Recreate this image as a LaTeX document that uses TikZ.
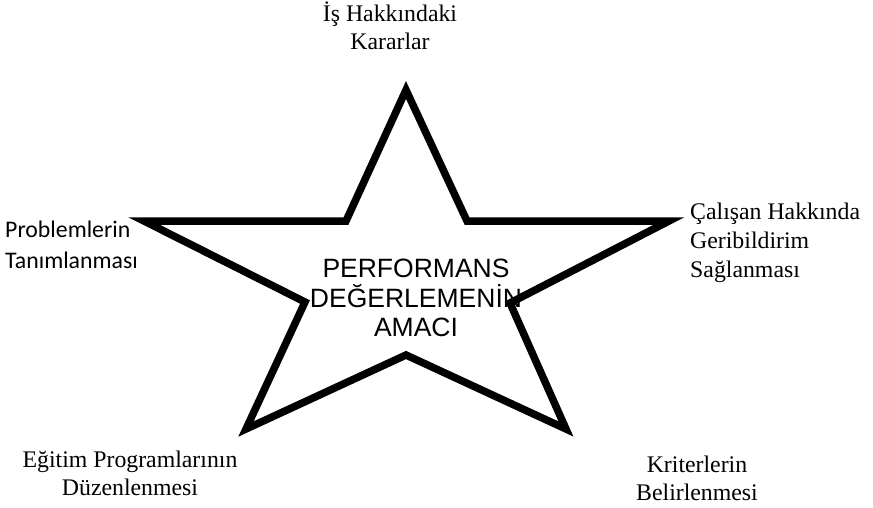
\documentclass[tikz,border=0pt]{standalone}
\usepackage{fontspec}
\setmainfont{Liberation Serif}
\newfontfamily\calibrifont{Carlito}
\newfontfamily\arialfont{Liberation Sans}
\begin{document}
\begin{tikzpicture}[x=1pt,y=-1pt]
\tikzset{
  lbl/.style={inner sep=0pt, align=center, font=\fontsize{23.8}{28}\selectfont},
  lblr/.style={inner sep=0pt, align=left, font=\fontsize{23.8}{29}\selectfont},
  lblcal/.style={inner sep=0pt, align=left, font=\calibrifont\fontsize{23.8}{31}\selectfont},
  mid/.style={inner sep=0pt, align=center, font=\arialfont\fontsize{26.5}{29.5}\selectfont},
  starline/.style={draw=black, line width=7.5pt, line join=miter}
}
\useasboundingbox (0,0) rectangle (873,508);
\coordinate (T) at (406,90);
\coordinate (ITR) at (467,221);
\coordinate (R) at (669,221);
\coordinate (IR) at (510,303);
\coordinate (BR) at (566,429);
\coordinate (IB) at (406,355);
\coordinate (BL) at (246,429);
\coordinate (IL) at (305,302);
\coordinate (L) at (144,221);
\coordinate (ITL) at (346,221);
\draw[starline] (T) -- (ITR) -- (R) -- (IR) -- (BR) -- (IB) -- (BL) -- (IL) -- (L) -- (ITL) -- cycle;
\node[mid] (center) at (416,298) {PERFORMANS\\DEĞERLEMENİN\\AMACI};
\node[lbl] (top) at (390,25.5) {İş Hakkındaki\\Kararlar};
\node[lblr, anchor=west] (right) at (690,242.5) {Çalışan Hakkında\\Geribildirim\\Sağlanması};
\node[lblcal, anchor=west] (left) at (5,244.5) {Problemlerin\\Tanımlanması};
\node[lbl] (bl) at (130,473) {Eğitim Programlarının\\Düzenlenmesi};
\node[lbl] (br) at (697,478.5) {Kriterlerin\\Belirlenmesi};
\end{tikzpicture}
\end{document}
